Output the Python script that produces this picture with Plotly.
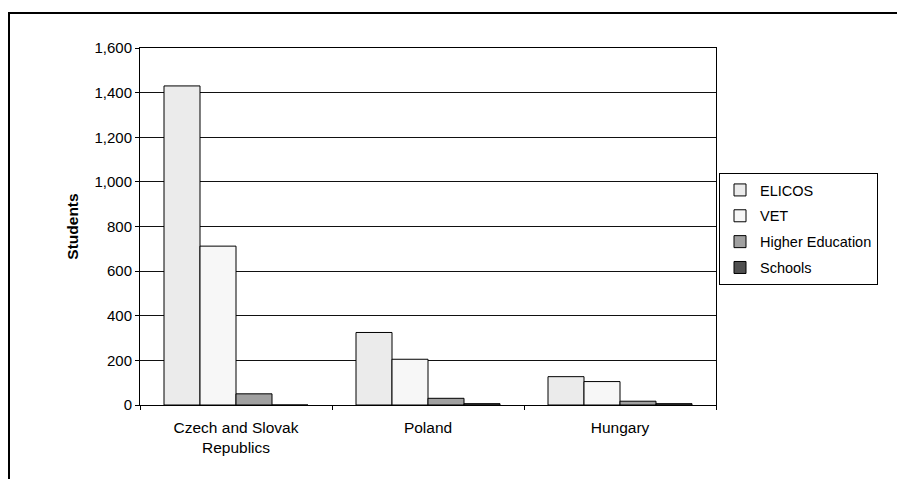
import plotly.graph_objects as go

# Student numbers by sector and source country
countries = ["Czech and Slovak<br>Republics", "Poland", "Hungary"]
sectors = ["ELICOS", "VET", "Higher Education", "Schools"]
elicos = [1430, 325, 127]
vet = [712, 205, 105]
higher_ed = [50, 30, 17]
schools = [0, 6, 6]
y_ticks = [0, 200, 400, 600, 800, 1000, 1200, 1400, 1600]

series = [elicos, vet, higher_ed, schools]
fills = ["#ebebeb", "#f7f7f7", "#a0a0a0", "#505050"]

W, H = 897, 479
L, R, T, B = 140, 181, 48, 74
FONT = "Liberation Sans, Arial, sans-serif"

fig = go.Figure()
for name, vals, col in zip(sectors, series, fills):
    fig.add_trace(go.Bar(
        x=countries, y=vals, name=name, legendgroup=name,
        marker=dict(color=col, line=dict(color="#000000", width=1)),
    ))

# outer frame around the chart (open to the right and bottom edges)
pw, ph = W - L - R, H - T - B
def px_x(v):
    return (v - L) / pw
def px_y(v):
    return (H - B - v) / ph

fig.add_shape(type="rect", xref="paper", yref="paper",
              x0=px_x(9), x1=px_x(940), y0=px_y(520), y1=px_y(13),
              line=dict(color="#000000", width=2), fillcolor="rgba(0,0,0,0)",
              layer="above")

fig.update_layout(
    width=W, height=H,
    margin=dict(l=L, r=R, t=T, b=B, autoexpand=False),
    paper_bgcolor="white", plot_bgcolor="white",
    barmode="group", bargap=0.25, bargroupgap=0,
    font=dict(family=FONT, size=15, color="#000000"),
    showlegend=True,
    legend=dict(
        x=px_x(719), y=px_y(173), xanchor="left", yanchor="top",
        bgcolor="white", bordercolor="#000000", borderwidth=1,
        font=dict(family=FONT, size=14.5, color="#000000"),
        traceorder="grouped", tracegroupgap=4, itemwidth=30,
    ),
    xaxis=dict(
        type="category", tickson="boundaries", ticks="outside", ticklen=4,
        tickcolor="#000000", showline=True, linecolor="#000000", linewidth=1,
        mirror=True, showgrid=False, tickfont=dict(size=15.5),
        ticklabelstandoff=8,
    ),
    yaxis=dict(
        range=[0, 1600], tickvals=y_ticks, tickformat=",d",
        ticks="outside", ticklen=4, tickcolor="#000000",
        showline=True, linecolor="#000000", linewidth=1, mirror=True,
        showgrid=True, gridcolor="#111111", gridwidth=1,
        zeroline=False, tickfont=dict(size=15),
        title=dict(text="<b>Students</b>", font=dict(size=15.5), standoff=12),
    ),
)

fig.write_html("out.html")
